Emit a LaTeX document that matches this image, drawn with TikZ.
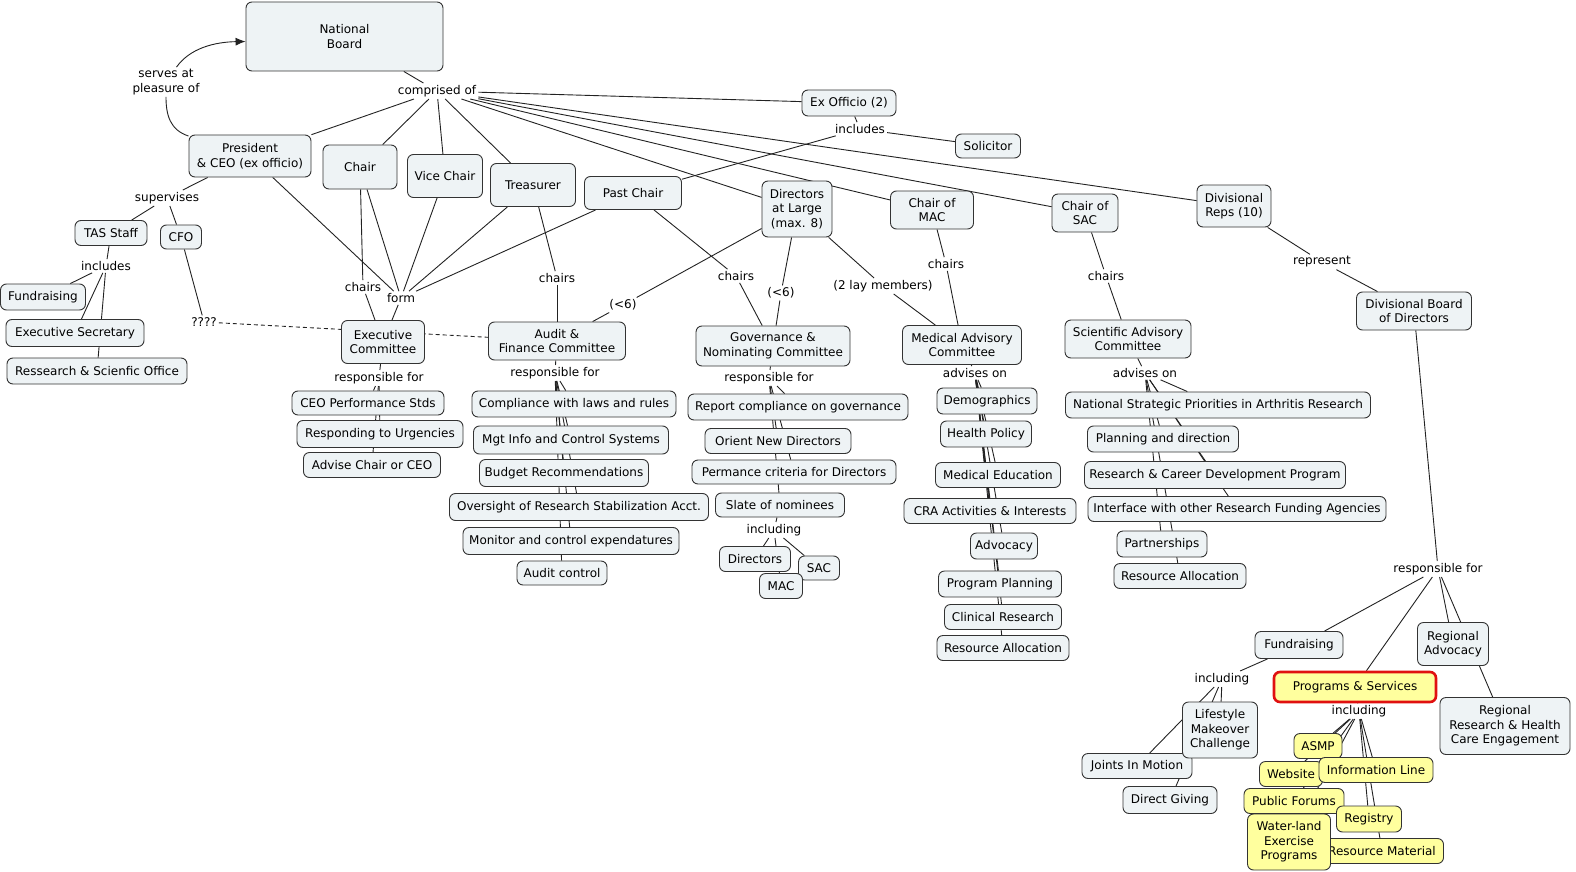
\documentclass[tikz,border=0pt]{standalone}
\usepackage{fontspec}
\setmainfont{DejaVu Sans}
\usetikzlibrary{arrows.meta,backgrounds}
\definecolor{boxfill}{HTML}{EEF3F5}
\definecolor{bord}{HTML}{333333}
\definecolor{ylw}{HTML}{FFFF9E}
\definecolor{redb}{HTML}{E01010}
\definecolor{ln}{HTML}{222222}
\newcommand\mybox[6]{\node[bx, minimum width=#4pt, minimum height=#5pt] (#1) at (#2,#3) {#6};}
\newcommand\ybox[6]{\node[bx, fill=ylw, minimum width=#4pt, minimum height=#5pt] (#1) at (#2,#3) {#6};}
\newcommand\mylab[4]{\node[lab] (#1) at (#2,#3) {#4};}
\begin{document}
\begin{tikzpicture}[x=1pt,y=-1pt, font=\fontsize{12}{14.5}\selectfont,
 bx/.style={draw=bord, fill=boxfill, rounded corners=6pt, align=center, inner sep=1pt, line width=0.9pt, text=black},
 lab/.style={inner sep=2pt, align=center, text=black},
 cn/.style={draw=ln, line width=0.9pt},
 dsh/.style={draw=ln, line width=0.9pt, dash pattern=on 4pt off 3pt}]
\useasboundingbox (0,0) rectangle (1576,872);
% boxes
\mybox{nb}{344.5}{36.5}{197}{69}{National\\Board}
\mybox{exo}{849}{103}{94}{26}{Ex Officio (2)}
\mybox{sol}{988}{146}{65}{24}{Solicitor}
\mybox{pres}{250}{156}{122}{42}{President\\\& CEO (ex officio)}
\mybox{chair}{360}{167}{74}{44}{Chair}
\mybox{vchair}{445}{176}{75}{43}{Vice Chair}
\mybox{treas}{533}{185}{85}{43}{Treasurer}
\mybox{past}{633}{193}{97}{33}{Past Chair}
\mybox{dal}{797}{209}{70}{56}{Directors\\at Large\\(max. 8)}
\mybox{cmac}{932}{210}{83}{38}{Chair of\\MAC}
\mybox{csac}{1085}{213}{66}{38}{Chair of\\SAC}
\mybox{divr}{1234}{206}{74}{42}{Divisional\\Reps (10)}
\mybox{tas}{111}{233}{72}{25}{TAS Staff}
\mybox{cfo}{181}{237}{41}{24}{CFO}
\mybox{fund1}{43}{297}{85}{26}{Fundraising}
\mybox{esec}{75}{333}{138}{27}{Executive Secretary}
\mybox{rso}{97}{371}{180}{26}{Ressearch \& Scienfic Office}
\mybox{exec}{383}{342}{83}{43}{Executive\\Committee}
\mybox{audit}{557}{341}{137}{38}{Audit \&\\Finance Committee}
\mybox{gov}{773}{346}{154}{40}{Governance \&\\Nominating Committee}
\mybox{mac}{962}{345}{119}{39}{Medical Advisory\\Committee}
\mybox{sac}{1128}{339}{126}{38}{Scientific Advisory\\Committee}
\mybox{dbd}{1414}{311}{115}{38}{Divisional Board\\of Directors}
\mybox{e1}{368}{403}{152}{24}{CEO Performance Stds}
\mybox{e2}{380}{434}{166}{27}{Responding to Urgencies}
\mybox{e3}{372}{465}{137}{25}{Advise Chair or CEO}
\mybox{a1}{574}{404}{204}{26}{Compliance with laws and rules}
\mybox{a2}{571}{440}{195}{28}{Mgt Info and Control Systems}
\mybox{a3}{564}{473}{169}{27}{Budget Recommendations}
\mybox{a4}{579}{507}{259}{27}{Oversight of Research Stabilization Acct.}
\mybox{a5}{571}{541}{216}{27}{Monitor and control expendatures}
\mybox{a6}{562}{573}{90}{24}{Audit control}
\mybox{g1}{798}{407}{220}{26}{Report compliance on governance}
\mybox{g2}{778}{441}{146}{25}{Orient New Directors}
\mybox{g3}{794}{472}{204}{24}{Permance criteria for Directors}
\mybox{g4}{780}{505}{129}{24}{Slate of nominees}
\mybox{gd}{755}{559}{71}{25}{Directors}
\mybox{gs}{819}{568}{41}{24}{SAC}
\mybox{gm}{781}{586}{43}{25}{MAC}
\mybox{m1}{987}{401}{100}{26}{Demographics}
\mybox{m2}{986}{434}{91}{26}{Health Policy}
\mybox{m3}{998}{475}{125}{25}{Medical Education}
\mybox{m4}{990}{511}{172}{25}{CRA Activities \& Interests}
\mybox{m5}{1004}{546}{67}{26}{Advocacy}
\mybox{m6}{1000}{584}{123}{26}{Program Planning}
\mybox{m7}{1003}{617}{117}{25}{Clinical Research}
\mybox{m8}{1003}{648}{132}{25}{Resource Allocation}
\mybox{s1}{1218}{405}{305}{26}{National Strategic Priorities in Arthritis Research}
\mybox{s2}{1163}{439}{151}{26}{Planning and direction}
\mybox{s3}{1215}{475}{261}{27}{Research \& Career Development Program}
\mybox{s4}{1237}{509}{298}{25}{Interface with other Research Funding Agencies}
\mybox{s5}{1162}{544}{90}{26}{Partnerships}
\mybox{s6}{1180}{576}{132}{25}{Resource Allocation}
\mybox{fund2}{1299}{645}{88}{27}{Fundraising}
\mybox{radv}{1453}{644}{71}{43}{Regional\\Advocacy}
\node[bx, fill=ylw, draw=redb, line width=2.6pt, minimum width=162pt, minimum height=30pt] (ps) at (1355,687) {Programs \& Services};
\mybox{rrh}{1505}{726}{130}{57}{Regional\\Research \& Health\\Care Engagement}
\mybox{jim}{1137}{766}{110}{25}{Joints In Motion}
\mybox{lmc}{1220}{730}{75}{56}{Lifestyle\\Makeover\\Challenge}
\mybox{dg}{1170}{800}{94}{27}{Direct Giving}
\ybox{y1}{1318}{746}{48}{25}{ASMP}
\ybox{y2}{1291}{774}{63}{25}{Website}
\ybox{y3}{1376}{770}{114}{25}{Information Line}
\ybox{y4}{1294}{801}{100}{25}{Public Forums}
\ybox{y5}{1369}{819}{65}{26}{Registry}
\ybox{y7}{1382}{851}{123}{25}{Resource Material}
\ybox{y6}{1289}{842}{83}{56}{Water-land\\Exercise\\Programs}
% linking phrases
\mylab{lcomp}{437}{91}{comprised of}
\mylab{lserve}{166}{82}{serves at\\pleasure of}
\mylab{lsup}{167}{198}{supervises}
\mylab{linc1}{106}{266}{includes}
\mylab{lq}{204}{322}{????}
\mylab{lch1}{363}{287}{chairs}
\mylab{lform}{401}{298}{form}
\mylab{lch2}{557}{278}{chairs}
\mylab{llt1}{623}{305}{(<6)}
\mylab{lch3}{736}{276}{chairs}
\mylab{llt2}{781}{293}{(<6)}
\mylab{llay}{883}{286}{(2 lay members)}
\mylab{lch4}{946}{264}{chairs}
\mylab{lch5}{1106}{276}{chairs}
\mylab{lrep}{1322}{262}{represent}
\mylab{linc2}{860}{129}{includes}
\mylab{lrf1}{379}{378}{responsible for}
\mylab{lrf2}{555}{373}{responsible for}
\mylab{lrf3}{769}{378}{responsible for}
\mylab{lad1}{975}{373}{advises on}
\mylab{lad2}{1145}{373}{advises on}
\mylab{linc3}{774}{530}{including}
\mylab{lrf4}{1438}{569}{responsible for}
\mylab{linc4}{1222}{679}{including}
\mylab{linc5}{1359}{711}{including}
% connectors
\begin{pgfonlayer}{background}
\draw[cn] (nb) -- (lcomp);
\foreach \t in {pres,chair,vchair,treas,exo,dal,cmac,csac,divr} \draw[cn] (lcomp) -- (\t);
\draw[cn] (pres) .. controls (170,130) and (166,115) .. (lserve);
\draw[cn,-{Latex[length=10pt,width=8pt]}] (lserve) .. controls (190,48) and (215,42) .. ([yshift=-5pt]nb.west);
\draw[cn] (pres) -- (lsup);
\foreach \t in {tas,cfo} \draw[cn] (lsup) -- (\t);
\draw[cn] (tas) -- (linc1);
\foreach \t in {fund1,esec,rso} \draw[cn] (linc1) -- (\t);
\draw[cn] (cfo) -- (lq);
\draw[dsh] (lq) -- (audit);
\draw[cn] (chair) -- (lch1);
\draw[cn] (lch1) -- (exec);
\foreach \t in {pres,chair,vchair,treas,past} \draw[cn] (\t) -- (lform);
\draw[cn] (lform) -- (exec);
\draw[cn] (treas) -- (lch2);
\draw[cn] (lch2) -- (audit);
\draw[cn] (dal) -- (llt1);
\draw[cn] (llt1) -- (audit);
\draw[cn] (past) -- (lch3);
\draw[cn] (lch3) -- (gov);
\draw[cn] (dal) -- (llt2);
\draw[cn] (llt2) -- (gov);
\draw[cn] (dal) -- (llay);
\draw[cn] (llay) -- (mac);
\draw[cn] (cmac) -- (lch4);
\draw[cn] (lch4) -- (mac);
\draw[cn] (csac) -- (lch5);
\draw[cn] (lch5) -- (sac);
\draw[cn] (divr) -- (lrep);
\draw[cn] (lrep) -- (dbd);
\draw[cn] (exo) -- (linc2);
\foreach \t in {sol,past} \draw[cn] (linc2) -- (\t);
\draw[cn] (exec) -- (lrf1);
\foreach \t in {e1,e2,e3} \draw[cn] (lrf1) -- (\t);
\draw[cn] (audit) -- (lrf2);
\foreach \t in {a1,a2,a3,a4,a5,a6} \draw[cn] (lrf2) -- (\t);
\draw[cn] (gov) -- (lrf3);
\foreach \t in {g1,g2,g3,g4} \draw[cn] (lrf3) -- (\t);
\draw[cn] (g4) -- (linc3);
\foreach \t in {gd,gs,gm} \draw[cn] (linc3) -- (\t);
\draw[cn] (mac) -- (lad1);
\foreach \t in {m1,m2,m3,m4,m5,m6,m7,m8} \draw[cn] (lad1) -- (\t);
\draw[cn] (sac) -- (lad2);
\foreach \t in {s1,s2,s3,s4,s5,s6} \draw[cn] (lad2) -- (\t);
\draw[cn] (dbd) -- (lrf4);
\foreach \t in {fund2,ps,radv,rrh} \draw[cn] (lrf4) -- (\t);
\draw[cn] (fund2) -- (linc4);
\foreach \t in {lmc,jim,dg} \draw[cn] (linc4) -- (\t);
\draw[cn] (ps) -- (linc5);
\foreach \t in {y1,y2,y3,y4,y5,y6,y7} \draw[cn] (linc5) -- (\t);
\end{pgfonlayer}
\end{tikzpicture}
\end{document}
